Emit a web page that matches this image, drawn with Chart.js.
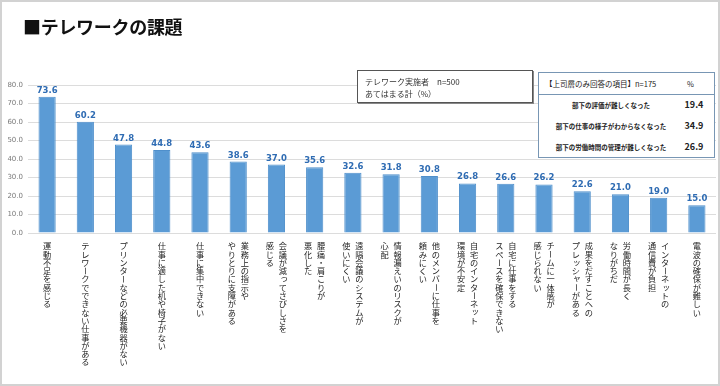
<!DOCTYPE html>
<html lang="ja">
<head>
<meta charset="utf-8">
<script src="https://cdn.jsdelivr.net/npm/chart.js@4"></script>
<style>
  html, body { margin: 0; padding: 0; background: #fff; }
  #frame {
    position: relative; width: 720px; height: 386px; box-sizing: border-box;
    border: 2px solid #d2d2d2; overflow: hidden;
    font-family: "Noto Sans CJK JP", "Noto Sans", sans-serif;
  }
  #wrap { position: absolute; left: -2px; top: -2px; width: 720px; height: 386px; }
  #title {
    position: absolute; left: 21px; top: 11px; font-size: 18px; font-weight: bold;
    color: #111; letter-spacing: -0.3px;
  }
  #note {
    position: absolute; left: 355px; top: 68px; width: 176px; height: 33px;
    border: 1px solid #555; box-shadow: 1px 1px 0 #888; background: #fff;
    font-size: 8px; color: #333; line-height: 12px; padding: 5px 0 0 7px; box-sizing: border-box;
  }
  #boss {
    position: absolute; left: 536px; top: 70px; width: 177px; height: 86px;
    border: 1.5px solid #7896b4; background: #fff; box-sizing: border-box;
    color: #222;
  }
  #boss .head {
    height: 21px; border-bottom: 1px solid #7896b4; font-size: 7.5px;
    display: flex; align-items: center; padding-left: 6px;
  }
  #boss .head .pct { position: absolute; left: 148px; top: 5px; font-size: 7.5px; }
  #boss .row { position: absolute; left: 0; width: 177px; height: 14px; }
  #boss .row .lab {
    position: absolute; left: 8px; width: 128px; text-align: center; font-size: 6.5px;
    font-weight: bold; top: 2px; white-space: nowrap;
  }
  #boss .row .val { position: absolute; left: 140px; width: 30px; text-align: center; font-size: 9px; font-weight: bold; }
</style>
</head>
<body>
<div id="frame">
  <div id="wrap"><canvas id="chart"></canvas></div>
  <div id="title">■テレワークの課題</div>
  <div id="note">テレワーク実施者　n=500<br>あてはまる計（%）</div>
  <div id="boss"></div>
</div>
<script>
const categories = [
  ["運動不足を感じる"],
  ["テレワークでできない仕事がある"],
  ["プリンターなどの必要機器がない"],
  ["仕事に適した机や椅子がない"],
  ["仕事に集中できない"],
  ["業務上の指示や", "やりとりに支障がある"],
  ["会議が減ってさびしさを", "感じる"],
  ["腰痛・肩こりが", "悪化した"],
  ["遠隔会議のシステムが", "使いにくい"],
  ["情報漏えいのリスクが", "心配"],
  ["他のメンバーに仕事を", "頼みにくい"],
  ["自宅のインターネット", "環境が不安定"],
  ["自宅に仕事をする", "スペースを確保できない"],
  ["チームに一体感が", "感じられない"],
  ["成果をだすことへの", "プレッシャーがある"],
  ["労働時間が長く", "なりがちだ"],
  ["インターネットの", "通信費が負担"],
  ["電波の確保が難しい"]
];
const values = [73.6, 60.2, 47.8, 44.8, 43.6, 38.6, 37.0, 35.6, 32.6, 31.8, 30.8, 26.8, 26.6, 26.2, 22.6, 21.0, 19.0, 15.0];
const yMax = 80;
const yStep = 10;

// 上司層のみ回答の項目 (n=175)
const bossHeader = "【上司層のみ回答の項目】n=175";
const bossItems = ["部下の評価が難しくなった", "部下の仕事の様子がわからなくなった", "部下の労働時間の管理が難しくなった"];
const bossValues = [19.4, 34.9, 26.9];

const boss = document.getElementById("boss");
boss.innerHTML = `<div class="head">${bossHeader}<span class="pct">%</span></div>` +
  bossItems.map((t, i) => `
    <div class="row" style="top:${25 + i * 21}px">
      <span class="lab">${t}</span><span class="val">${bossValues[i].toFixed(1)}</span>
    </div>`).join("");

// vertical (tategaki) category labels under the bars
const rotateChars = "ー－―";
const smallKana = "ッっャュョゃゅょァィェォぁぃぅぇぉ";
const verticalLabels = {
  id: "verticalLabels",
  afterDraw(chart) {
    const { ctx } = chart;
    const xs = chart.scales.x;
    const top = chart.chartArea.bottom + 9;
    const step = 8.3, colGap = 13;
    ctx.save();
    ctx.fillStyle = "#1e1e1e";
    ctx.font = '8.2px "Noto Sans CJK JP"';
    ctx.textAlign = "center";
    ctx.textBaseline = "middle";
    chart.data.labels.forEach((lab, i) => {
      const cx = xs.getPixelForValue(i);
      const lines = Array.isArray(lab) ? lab : [lab];
      lines.forEach((line, j) => {
        const colX = cx + ((lines.length - 1) / 2 - j) * colGap;
        [...line].forEach((ch, k) => {
          const cy = top + k * step + step / 2;
          if (rotateChars.includes(ch)) {
            ctx.save();
            ctx.translate(colX, cy);
            ctx.rotate(Math.PI / 2);
            ctx.fillText(ch, 0, 0);
            ctx.restore();
          } else if (smallKana.includes(ch)) {
            ctx.fillText(ch, colX + 1.2, cy - 1.2);
          } else {
            ctx.fillText(ch, colX, cy);
          }
        });
      });
    });
    ctx.restore();
  }
};

// value labels above bars
const valueLabels = {
  id: "valueLabels",
  afterDatasetsDraw(chart) {
    const { ctx } = chart;
    ctx.save();
    ctx.fillStyle = "#2f6cb3";
    ctx.font = 'bold 8.5px "DejaVu Sans", sans-serif';
    ctx.textAlign = "center";
    ctx.textBaseline = "bottom";
    chart.getDatasetMeta(0).data.forEach((bar, i) => {
      ctx.fillText(values[i].toFixed(1), bar.x, bar.y - 2);
    });
    ctx.restore();
  }
};

new Chart(document.getElementById("chart"), {
  type: "bar",
  data: {
    labels: categories,
    datasets: [{
      data: values,
      backgroundColor: "#5b9bd5",
      borderColor: "#4f8fcb",
      borderWidth: 1,
      barPercentage: 0.45,
      categoryPercentage: 1
    }]
  },
  options: {
    responsive: true,
    maintainAspectRatio: false,
    animation: false,
    layout: { padding: { top: 85, bottom: 145, left: 2, right: 4 } },
    plugins: { legend: { display: false }, tooltip: { enabled: false } },
    scales: {
      x: {
        ticks: { display: false },
        grid: { display: false },
        border: { display: false }
      },
      y: {
        min: 0, max: yMax,
        afterFit: (s) => { s.width = 26; },
        ticks: {
          stepSize: yStep, padding: 5, color: "#7a7a7a",
          font: { size: 7, family: "DejaVu Sans" },
          callback: (v) => v.toFixed(1)
        },
        grid: { color: "#dcdcdc", drawTicks: false },
        border: { display: false }
      }
    }
  },
  plugins: [valueLabels, verticalLabels]
});
</script>
</body>
</html>
